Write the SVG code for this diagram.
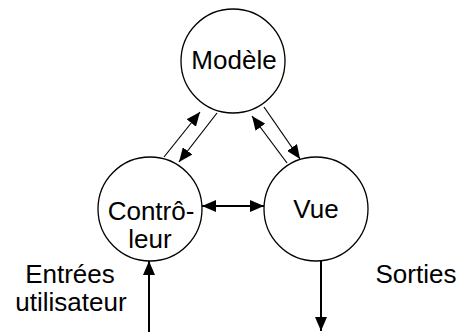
<svg xmlns="http://www.w3.org/2000/svg" width="459" height="332" viewBox="0 0 459 332">
<defs>
<marker id="ah" viewBox="0 0 14 12" refX="14" refY="6" markerWidth="14" markerHeight="12" markerUnits="userSpaceOnUse" orient="auto-start-reverse">
<path d="M0,0 L14,6 L0,12 Z" fill="#000"/>
</marker>
</defs>
<style>
.n{fill:#fff;stroke:#000;stroke-width:1.3}
.t{font-family:"Liberation Sans",Arial,sans-serif;font-size:26px;fill:#000;text-anchor:middle}
.c{stroke:#000;stroke-width:1.2;fill:none}
.b{stroke:#000;stroke-width:2;fill:none}
</style>
<rect width="459" height="332" fill="#fff"/>
<g id="modele"><circle class="n" cx="233" cy="61" r="52"/><text class="t" x="234" y="69">Modèle</text></g>
<g id="controleur"><circle class="n" cx="150" cy="209" r="52"/><text class="t" x="151" y="220">Contrô-</text><text class="t" x="150" y="248">leur</text></g>
<g id="vue"><circle class="n" cx="316" cy="209" r="52"/><text class="t" x="316" y="218">Vue</text></g>
<g id="labels"><text class="t" x="70" y="283">Entrées</text><text class="t" x="71" y="311">utilisateur</text><text class="t" x="416" y="283">Sorties</text></g>
<g id="connectors">
<line class="c" x1="164" y1="157" x2="200" y2="112" marker-end="url(#ah)"/>
<line class="c" x1="217" y1="113" x2="179" y2="162" marker-end="url(#ah)"/>
<line class="c" x1="287" y1="163" x2="252" y2="116" marker-end="url(#ah)"/>
<line class="c" x1="264" y1="107" x2="300" y2="159" marker-end="url(#ah)"/>
<line class="b" x1="202" y1="206" x2="264" y2="206" marker-start="url(#ah)" marker-end="url(#ah)"/>
<line class="b" x1="149" y1="332" x2="149" y2="261" marker-end="url(#ah)"/>
<line class="b" x1="321" y1="261" x2="321" y2="331" marker-end="url(#ah)"/>
</g>
</svg>
